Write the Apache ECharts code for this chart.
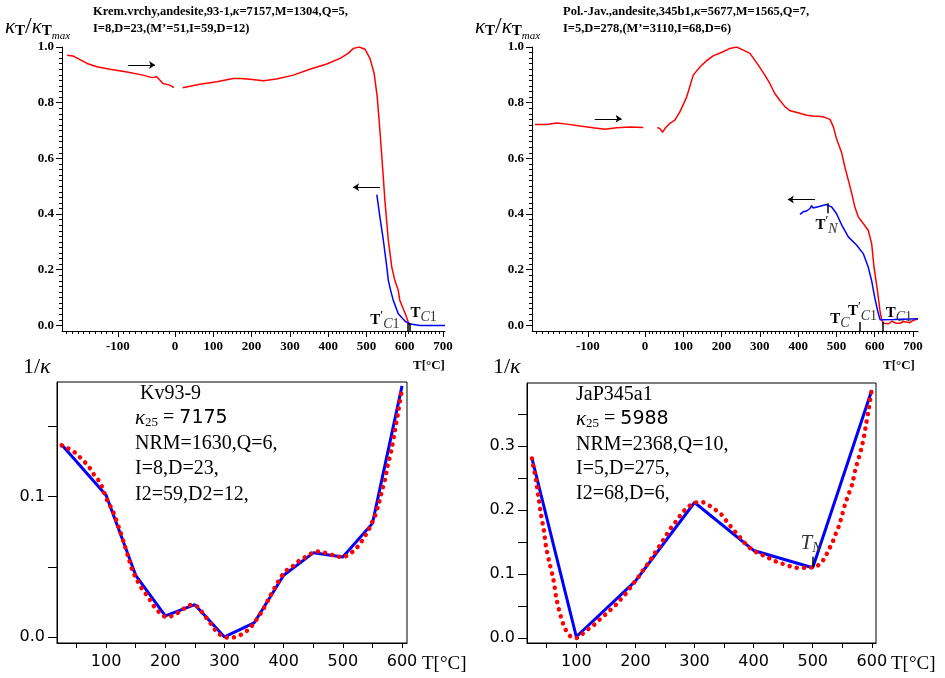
<!DOCTYPE html>
<html>
<head>
<meta charset="utf-8">
<script src="https://cdn.jsdelivr.net/npm/echarts@6/dist/echarts.min.js"></script>
<style>
html, body { margin: 0; padding: 0; background: #fff; }
#chart { width: 945px; height: 678px; }
</style>
</head>
<body>
<div id="chart"></div>
<script>
// Krem.vrchy 93-1: kappa(T) / kappa max, heating below 0 and above 0, cooling
const krNegT = [-189, -179, -154, -137, -114, -84, -56, -40, -32, -21, -9, -2];
const krNegK = [0.970, 0.968, 0.941, 0.929, 0.920, 0.910, 0.899, 0.890, 0.893, 0.869, 0.863, 0.854];
const krHeatT = [20, 65, 109, 152, 170, 196, 231, 265, 309, 352, 396, 431, 452, 466, 481, 496, 509, 520, 528, 535, 542, 548, 557, 566, 574, 583, 587, 601, 609, 612];
const krHeatK = [0.854, 0.866, 0.875, 0.887, 0.887, 0.884, 0.879, 0.885, 0.899, 0.920, 0.939, 0.959, 0.977, 0.995, 1.000, 0.992, 0.959, 0.905, 0.821, 0.701, 0.569, 0.450, 0.306, 0.210, 0.162, 0.126, 0.090, 0.043, 0.012, 0.003];
const krCoolT = [527, 535, 544, 553, 557, 563, 570, 583, 601, 614, 640, 705];
const krCoolK = [0.470, 0.390, 0.306, 0.210, 0.162, 0.126, 0.090, 0.042, 0.015, 0.005, 0.0, 0.0];

// Pol.-Jav. 345b1
const jpNegT = [-193, -172, -155, -137, -114, -91, -70, -50, -26, -3];
const jpNegK = [0.722, 0.722, 0.727, 0.723, 0.716, 0.710, 0.705, 0.710, 0.713, 0.711];
const jpHeatT = [32, 39, 46, 52, 65, 78, 91, 109, 126, 144, 161, 178, 204, 222, 239, 257, 274, 296, 313, 326, 339, 352, 366, 379, 400, 422, 439, 459, 462, 466, 483, 492, 500, 514, 522, 531, 540, 548, 557, 570, 583, 592, 598, 607, 614, 618, 623, 636, 645, 655, 666, 675, 683, 692, 700, 713];
const jpHeatK = [0.711, 0.707, 0.694, 0.707, 0.726, 0.737, 0.767, 0.821, 0.899, 0.929, 0.951, 0.968, 0.983, 0.995, 1.000, 0.989, 0.977, 0.935, 0.899, 0.869, 0.833, 0.809, 0.785, 0.771, 0.764, 0.755, 0.752, 0.750, 0.756, 0.749, 0.740, 0.713, 0.671, 0.618, 0.569, 0.522, 0.474, 0.425, 0.390, 0.366, 0.342, 0.294, 0.210, 0.126, 0.050, 0.020, 0.008, 0.006, 0.015, 0.008, 0.008, 0.014, 0.012, 0.010, 0.018, 0.024];
const jpCoolT = [405, 413, 422, 431, 435, 439, 457, 474, 487, 500, 514, 531, 553, 570, 583, 592, 600, 608, 614, 650, 713];
const jpCoolK = [0.399, 0.408, 0.411, 0.420, 0.430, 0.422, 0.428, 0.434, 0.426, 0.402, 0.360, 0.318, 0.288, 0.258, 0.210, 0.160, 0.100, 0.050, 0.020, 0.021, 0.024];

// 1/kappa, Kv93-9: measured (blue) and fit (red dots)
const kvT = [25, 100, 150, 200, 250, 300, 350, 400, 450, 500, 550, 600];
const kvInv = [0.137, 0.101, 0.044, 0.015, 0.023, 0.000, 0.010, 0.044, 0.060, 0.057, 0.081, 0.179];
const kvFitT = [25, 36, 48, 56, 66, 74, 81, 89, 94, 102, 110, 115, 124, 131, 138, 144, 152, 160, 168, 174, 181, 190, 202, 212, 225, 235, 246, 256, 265, 273, 280, 289, 298, 309, 321, 333, 343, 354, 365, 377, 384, 398, 406, 416, 426, 438, 450, 460, 472, 486, 500, 509, 520, 529, 535, 543, 548, 554, 560, 565, 571, 576, 582, 588, 593, 599];
const kvFitInv = [0.1366, 0.1344, 0.1313, 0.128, 0.1237, 0.1195, 0.1147, 0.1107, 0.106, 0.0972, 0.091, 0.0858, 0.0751, 0.0657, 0.0562, 0.0479, 0.0408, 0.0348, 0.0301, 0.0265, 0.0218, 0.0175, 0.0142, 0.0152, 0.0182, 0.0213, 0.023, 0.021, 0.0159, 0.0118, 0.0075, 0.0028, 0.0004, -0.0007, 0.0004, 0.0028, 0.0064, 0.0123, 0.0194, 0.0289, 0.0344, 0.0443, 0.0479, 0.0507, 0.0543, 0.0573, 0.0602, 0.0609, 0.0597, 0.058, 0.0569, 0.0585, 0.0621, 0.0664, 0.0704, 0.0758, 0.0806, 0.0858, 0.0941, 0.1024, 0.1119, 0.1225, 0.1332, 0.1474, 0.1593, 0.1747];

// 1/kappa, JaP345a1
const jaT = [25, 100, 200, 300, 400, 500, 600];
const jaInv = [0.281, 0.002, 0.089, 0.212, 0.137, 0.110, 0.388];
const jaFitT = [25, 28, 32, 36, 40, 45, 49, 55, 61, 67, 74, 81, 90, 100, 111, 121, 131, 141, 151, 160, 169, 177, 186, 194, 202, 209, 217, 224, 231, 238, 245, 252, 260, 268, 276, 287, 300, 312, 324, 335, 345, 353, 361, 369, 378, 386, 397, 409, 419, 431, 442, 454, 466, 479, 491, 503, 513, 521, 527, 533, 538, 544, 550, 555, 561, 567, 572, 578, 584, 589, 595, 600];
const jaFitInv = [0.281, 0.265, 0.247, 0.221, 0.195, 0.169, 0.142, 0.116, 0.093, 0.059, 0.033, 0.0147, 0.0027, 0.0, 0.007, 0.0147, 0.0214, 0.0303, 0.0382, 0.046, 0.0538, 0.0626, 0.072, 0.0825, 0.0914, 0.1008, 0.1111, 0.12, 0.1305, 0.1399, 0.1502, 0.1607, 0.1721, 0.1815, 0.192, 0.2034, 0.2113, 0.2128, 0.2077, 0.2009, 0.1936, 0.1842, 0.1748, 0.1659, 0.1565, 0.1477, 0.1383, 0.1321, 0.1283, 0.1227, 0.118, 0.1149, 0.1111, 0.1095, 0.1102, 0.1111, 0.1164, 0.1268, 0.1383, 0.1487, 0.1607, 0.1748, 0.1936, 0.2103, 0.226, 0.2416, 0.2635, 0.2823, 0.3031, 0.3277, 0.3606, 0.39];

// tick labels
const topYLabels = [0, 0.2, 0.4, 0.6, 0.8, 1.0];
const topXNegLabels = [-100];
const topXPosLabels = [0, 100, 200, 300, 400, 500, 600, 700];
const botXLabels = [100, 200, 300, 400, 500, 600];
const botXTicks = [50, 100, 150, 200, 250, 300, 350, 400, 450, 500, 550, 600];
const kvYLabels = [0, 0.1];
const kvYTicks = [0, 0.05, 0.1, 0.15];
const jaYLabels = [0, 0.1, 0.2, 0.3];
const jaYTicks = [0, 0.05, 0.1, 0.15, 0.2, 0.25, 0.3, 0.35];

function steps(from, to, step, scale) {
    const out = [];
    for (let i = from; i <= to; i += step) out.push(Math.round(i) / scale);
    return out;
}
const topYMinor = steps(0, 100, 2, 100);
const topXNegMinor = steps(-190, -10, 10, 1);
const topXPosMinor = steps(10, 700, 10, 1);

function pairs(xs, ys) {
    return xs.map((x, i) => [x, ys[i]]);
}

const SERIF = 'Liberation Serif';
const SANS = 'DejaVu Sans';
const boldLabel = { fontFamily: SERIF, fontWeight: 'bold', fontSize: 13, color: '#000' };
const black = { color: '#000', width: 1 };

const grids = [
    { left: 62, top: 47, width: 113, height: 284 },
    { left: 175, top: 47, width: 270, height: 284 },
    { left: 532, top: 47, width: 113, height: 284 },
    { left: 645, top: 47, width: 273, height: 284 },
    { left: 57, top: 382, width: 350, height: 261, show: true, borderColor: '#000', borderWidth: 1 },
    { left: 527, top: 383, width: 349, height: 260, show: true, borderColor: '#000', borderWidth: 1 }
].map(g => Object.assign({ containLabel: false, outerBoundsMode: 'none' }, g));

function topX(grid, min, max, labels, minor) {
    return [{
        gridIndex: grid, type: 'value', min: min, max: max, position: 'bottom',
        axisLine: { show: true, onZero: false, lineStyle: black },
        axisTick: { show: true, length: 6, customValues: labels, lineStyle: black },
        axisLabel: { show: true, customValues: labels, margin: 9, formatter: v => String(v), ...boldLabel },
        splitLine: { show: false }
    }, {
        gridIndex: grid, type: 'value', min: min, max: max, position: 'bottom',
        axisLine: { show: false, onZero: false },
        axisTick: { show: true, length: 3, customValues: minor, lineStyle: black },
        axisLabel: { show: false },
        splitLine: { show: false }
    }];
}

function topY(grid, visible) {
    const axes = [{
        gridIndex: grid, type: 'value', min: -0.02, max: 1.0, position: 'left', show: visible,
        axisLine: { show: true, onZero: false, lineStyle: black },
        axisTick: { show: true, length: 6, customValues: topYLabels, lineStyle: black },
        axisLabel: { show: true, customValues: topYLabels, margin: 8, formatter: v => v.toFixed(1), ...boldLabel },
        splitLine: { show: false }
    }];
    if (visible) {
        axes.push({
            gridIndex: grid, type: 'value', min: -0.02, max: 1.0, position: 'left',
            axisLine: { show: false, onZero: false },
            axisTick: { show: true, length: 3, customValues: topYMinor, lineStyle: black },
            axisLabel: { show: false },
            splitLine: { show: false }
        });
    }
    return axes;
}

function botX(grid) {
    return {
        gridIndex: grid, type: 'value', min: grid === 4 ? 17 : 16.6, max: grid === 4 ? 608.4 : 607, position: 'bottom',
        axisLine: { show: true, onZero: false, lineStyle: black },
        axisTick: { show: true, length: 5, customValues: botXTicks, lineStyle: black },
        axisLabel: { show: true, customValues: botXLabels, margin: 11, fontFamily: SANS, fontSize: 16, color: '#000' },
        splitLine: { show: false }
    };
}

function botY(grid, min, max, labels, ticks) {
    return {
        gridIndex: grid, type: 'value', min: min, max: max, position: 'left',
        axisLine: { show: true, onZero: false, lineStyle: black },
        axisTick: { show: true, length: 9, customValues: ticks, lineStyle: black },
        axisLabel: { show: true, customValues: labels, margin: 12, formatter: v => v.toFixed(1), fontFamily: SANS, fontSize: 16, color: '#000' },
        splitLine: { show: false }
    };
}

const xAxes = [
    ...topX(0, -198, 0, topXNegLabels, topXNegMinor),   // 0,1
    ...topX(1, 0, 705, topXPosLabels, topXPosMinor),    // 2,3
    ...topX(2, -198, 0, topXNegLabels, topXNegMinor),   // 4,5
    ...topX(3, 0, 713, topXPosLabels, topXPosMinor),    // 6,7
    botX(4),                                            // 8
    botX(5)                                             // 9
];
const yAxes = [
    ...topY(0, true),    // 0,1
    ...topY(1, false),   // 2
    ...topY(2, true),    // 3,4
    ...topY(3, false),   // 5
    botY(4, -0.0043, 0.1818, kvYLabels, kvYTicks),   // 6
    botY(5, -0.0078, 0.399, jaYLabels, jaYTicks)     // 7
];

// annotation styles
const subRich = {
    b: { fontFamily: SERIF, fontWeight: 'bold', fontSize: 15, color: '#000' },
    p: { fontFamily: SERIF, fontSize: 13, color: '#000', padding: [0, 0, 9, 0] },
    c: { fontFamily: SERIF, fontStyle: 'italic', fontSize: 14, color: '#333', padding: [9, 0, 0, 0] },
    n: { fontFamily: SERIF, fontSize: 14, color: '#333', padding: [9, 0, 0, 0] },
    ti: { fontFamily: SERIF, fontStyle: 'italic', fontSize: 21, color: '#333' },
    tn: { fontFamily: SERIF, fontStyle: 'italic', fontSize: 14, color: '#333', padding: [10, 0, 0, 0] }
};
function note(x, y, text) {
    return { coord: [x, y], label: { show: true, position: 'inside', formatter: text, rich: subRich } };
}
function notes(data) {
    return {
        symbol: 'circle', symbolSize: 1, silent: true, itemStyle: { color: 'rgba(0,0,0,0)' },
        label: { show: true, position: 'inside', rich: subRich }, data: data
    };
}
function segs(data, arrow, width) {
    return {
        silent: true, animation: false,
        symbol: arrow ? ['none', 'arrow'] : ['none', 'none'], symbolSize: 6,
        label: { show: false },
        lineStyle: { color: '#000', width: width, type: 'solid' },
        emphasis: { disabled: true },
        data: data.map(d => [{ coord: d[0] }, { coord: d[1] }])
    };
}

function line(name, xi, yi, data, color, extra) {
    return Object.assign({
        name: name, type: 'line', xAxisIndex: xi, yAxisIndex: yi, data: data,
        showSymbol: false, symbol: 'none', silent: true,
        lineStyle: { color: color, width: 1.5 }, itemStyle: { color: color }
    }, extra || {});
}

const series = [
    line('kr heat neg', 0, 0, pairs(krNegT, krNegK), '#ff0000', {
        markLine: segs([[[-82, 0.935], [-35, 0.935]]], true, 1)
    }),
    line('kr heat', 2, 2, pairs(krHeatT, krHeatK), '#ff0000', {
        markLine: segs([[[535, 0.496], [465, 0.496]]], true, 1)
    }),
    line('kr cool', 2, 2, pairs(krCoolT, krCoolK), '#0000ff', {
        markLine: segs([[[608, 0.008], [608, -0.02]], [[612, 0.008], [612, -0.02]]], false, 1.5),
        markPoint: notes([
            note(548, 0.02, '{b|T}{p|′}{c|C}{n|1}'),
            note(649, 0.045, '{b|T}{c|C}{n|1}')
        ])
    }),
    line('jp heat neg', 4, 3, pairs(jpNegT, jpNegK), '#ff0000', {
        markLine: segs([[[-88, 0.742], [-41, 0.742]]], true, 1)
    }),
    line('jp heat', 6, 5, pairs(jpHeatT, jpHeatK), '#ff0000', {
        markLine: segs([[[444, 0.452], [373, 0.452]]], true, 1)
    }),
    line('jp cool', 6, 5, pairs(jpCoolT, jpCoolK), '#0000ff', {
        markLine: segs([
            [[476, 0.439], [476, 0.403]],
            [[561, 0.012], [561, -0.02]],
            [[622, 0.012], [622, -0.02]]
        ], false, 1.5),
        markPoint: notes([
            note(474, 0.36, '{b|T}{p|′}{c|N}'),
            note(509, 0.022, '{b|T}{c|C}'),
            note(568, 0.05, '{b|T}{p|′}{c|C}{n|1}'),
            note(663, 0.045, '{b|T}{c|C}{n|1}')
        ])
    }),
    line('kv', 8, 6, pairs(kvT, kvInv), '#0000ff', { lineStyle: { color: '#0000ff', width: 3 } }),
    line('kv fit', 8, 6, pairs(kvFitT, kvFitInv), '#ff0000', {
        smooth: 0.3, lineStyle: { color: '#ff0000', width: 4.5, type: [0.1, 7.2], cap: 'round' }
    }),
    line('ja', 9, 7, pairs(jaT, jaInv), '#0000ff', {
        lineStyle: { color: '#0000ff', width: 3 },
        markLine: segs([[[500, 0.127], [500, 0.111]]], false, 1.5)
    }),
    line('ja fit', 9, 7, pairs(jaFitT, jaFitInv), '#ff0000', {
        smooth: 0.3, lineStyle: { color: '#ff0000', width: 4.5, type: [0.1, 7.2], cap: 'round' },
        markPoint: notes([note(497, 0.148, '{ti|T}{tn|N}')])
    })
];

// texts around the panels
const kapRich = {
    k: { fontFamily: SERIF, fontStyle: 'italic', fontSize: 21, fill: '#000' },
    t: { fontFamily: SERIF, fontWeight: 'bold', fontSize: 15, fill: '#000', padding: [9, 0, 0, 0] },
    s: { fontFamily: SERIF, fontSize: 24, fill: '#000' },
    m: { fontFamily: SERIF, fontStyle: 'italic', fontSize: 11, fill: '#000', padding: [18, 0, 0, 0] }
};
function text(x, y, str, style) {
    return { type: 'text', x: x, y: y, silent: true,
        style: Object.assign({ text: str, fill: '#000', verticalAlign: 'middle', align: 'left' }, style) };
}
const titleStyle = { fontFamily: SERIF, fontWeight: 'bold', fontSize: 12.5,
    rich: { k: { fontFamily: SERIF, fontStyle: 'italic', fontWeight: 'bold', fontSize: 12.5, fill: '#000' } } };
const blockStyle = { fontFamily: SERIF, fontSize: 20,
    rich: {
        k: { fontFamily: SERIF, fontStyle: 'italic', fontSize: 21, fill: '#000' },
        sub: { fontFamily: SERIF, fontSize: 13, fill: '#000', padding: [10, 0, 0, 0] },
        e: { fontFamily: SERIF, fontSize: 20, fill: '#000' },
        n: { fontFamily: SANS, fontSize: 19, fill: '#000' }
    } };
const kappaMax = '{k|κ}{t|T}{s|/}{k|κ}{t|T}{m|max}';
const unitTop = { fontFamily: SERIF, fontWeight: 'bold', fontSize: 13 };
const unitBot = { fontFamily: SERIF, fontSize: 19 };
const invK = { fontFamily: SERIF, fontSize: 22, rich: {
    r: { fontFamily: SERIF, fontSize: 22, fill: '#000' },
    k: { fontFamily: SERIF, fontStyle: 'italic', fontSize: 22, fill: '#000' } } };

const blockLines = (x, ys, lines) => lines.map((l, i) => text(x, ys[i], l, blockStyle));

const graphic = [
    text(5, 27, kappaMax, { rich: kapRich }),
    text(475, 27, kappaMax, { rich: kapRich }),
    text(93, 12, 'Krem.vrchy,andesite,93-1,{k|κ}=7157,M=1304,Q=5,', titleStyle),
    text(93, 29, 'I=8,D=23,(M\u2019=51,I=59,D=12)', titleStyle),
    text(563, 12, 'Pol.-Jav.,andesite,345b1,{k|κ}=5677,M=1565,Q=7,', titleStyle),
    text(563, 29, 'I=5,D=278,(M\u2019=3110,I=68,D=6)', titleStyle),
    text(413, 366, 'T[°C]', unitTop),
    text(883, 366, 'T[°C]', unitTop),
    text(23, 367, '{r|1/}{k|κ}', invK),
    text(493, 367, '{r|1/}{k|κ}', invK),
    text(422, 664, 'T[°C]', unitBot),
    text(891, 664, 'T[°C]', unitBot),
    ...blockLines(135, [394, 418, 444, 469, 495],
        [' Kv93-9', '{k|κ}{sub|25}{e| = }{n|7175}', 'NRM=1630,Q=6,', 'I=8,D=23,', 'I2=59,D2=12,']),
    ...blockLines(576, [395, 419, 445, 469, 494],
        ['JaP345a1', '{k|κ}{sub|25}{e| = }{n|5988}', 'NRM=2368,Q=10,', 'I=5,D=275,', 'I2=68,D=6,'])
];

const chart = echarts.init(document.getElementById('chart'), null, { renderer: 'canvas' });
chart.setOption({
    animation: false,
    backgroundColor: '#fff',
    grid: grids,
    xAxis: xAxes,
    yAxis: yAxes,
    series: series,
    graphic: graphic
});
</script>
</body>
</html>
